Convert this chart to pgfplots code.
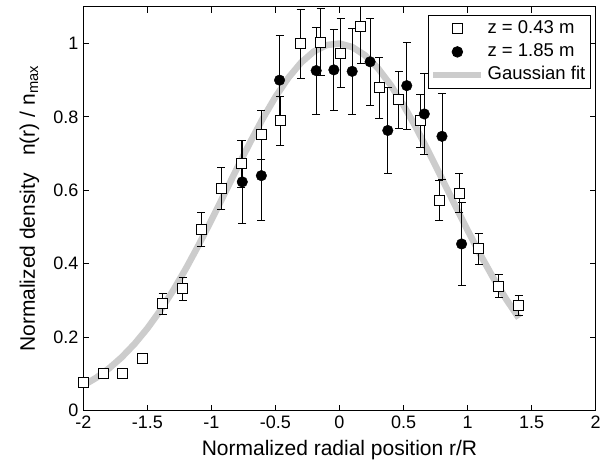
\documentclass[border=0pt]{standalone}
\usepackage{fontspec}
\setmainfont{Liberation Sans}
\usepackage{pgfplots}
\pgfplotsset{compat=1.18}
\definecolor{fitgray}{RGB}{204,204,204}
\newcommand{\tickfont}{\fontsize{18bp}{20bp}\selectfont}
\newcommand{\legfont}{\fontsize{18.5bp}{20bp}\selectfont}
\newcommand{\labfont}{\fontsize{21bp}{24bp}\selectfont}
\begin{document}
\begin{tikzpicture}
\begin{axis}[
  scale only axis, width=512.4bp, height=404bp,
  xmin=-2, xmax=2, ymin=0, ymax=1.1,
  xtick={-2,-1.5,-1,-0.5,0,0.5,1,1.5,2},
  xticklabels={-2,-1.5,-1,-0.5,0,0.5,1,1.5,2},
  ytick={0,0.2,0.4,0.6,0.8,1},
  yticklabels={0,0.2,0.4,0.6,0.8,1},
  minor tick num=0,
  tick align=inside, major tick length=6bp,
  tick style={black, line width=0.8bp},
  axis line style={black, line width=0.8bp},
  ticklabel style={font=\tickfont, inner sep=0bp, outer sep=0bp},
  xticklabel shift=5bp, yticklabel shift=5bp,
  xlabel={Normalized radial position r/R},
  ylabel={Normalized density~~~n(r) / n\textsubscript{max}},
  xlabel style={font=\labfont, at={(axis description cs:0.5,-0.1121)}, anchor=base},
  ylabel style={font=\labfont, at={(axis description cs:-0.0943,0.5)}, anchor=base, rotate=0},
  legend style={at={(1,1)}, anchor=north east, xshift=-5bp, yshift=-8.3bp,
    draw=black, line width=0.8bp, fill=white, font=\legfont,
    inner sep=2bp, row sep=0bp,
    nodes={inner sep=3bp, text height=13bp, text depth=4bp}},
  legend cell align=left,
  legend image code/.code={\draw[mark repeat=2,mark phase=2,#1] plot coordinates {(0bp,0bp) (24bp,0bp) (48bp,0bp)};},
  error bars/error bar style={line width=0.8bp, black},
  error bars/error mark options={rotate=90, mark size=4bp, line width=0.8bp, black},
]
% Gaussian fit
\addplot[fitgray, line width=6.5bp, line join=round, forget plot] coordinates {
(-2.0,0.0687) (-1.9,0.0894) (-1.8,0.1149) (-1.7,0.1455) (-1.6,0.1818)
(-1.5,0.2240) (-1.4,0.2723) (-1.3,0.3266) (-1.2,0.3863) (-1.1,0.4508)
(-1.0,0.5189) (-0.9,0.5892) (-0.8,0.6600) (-0.7,0.7292) (-0.6,0.7947)
(-0.5,0.8544) (-0.4,0.9061) (-0.3,0.9478) (-0.2,0.9781) (-0.1,0.9956)
(0.0,0.9997) (0.1,0.9902) (0.2,0.9675) (0.3,0.9325) (0.4,0.8865)
(0.5,0.8313) (0.6,0.7691) (0.7,0.7018) (0.8,0.6317) (0.9,0.5610)
(1.0,0.4913) (1.1,0.4245) (1.2,0.3618) (1.3,0.3042) (1.4,0.2522)
};
% z = 0.43 m
\addplot[only marks, mark=square*, mark size=5bp,
  mark options={fill=white, draw=black, line width=0.9bp},
  error bars/.cd, y dir=both, y explicit]
  table[x=x, y=y, y error=e] {
x y e
-2.000 0.077 0
-1.845 0.101 0
-1.697 0.101 0
-1.538 0.142 0.006
-1.380 0.291 0.028
-1.224 0.332 0.031
-1.078 0.493 0.046
-0.922 0.606 0.057
-0.766 0.672 0.065
-0.610 0.751 0.068
-0.462 0.790 0.067
-0.304 1.000 0.094
-0.148 1.004 0.092
0.008 0.974 0.094
0.164 1.046 0.100
0.312 0.879 0.082
0.463 0.847 0.078
0.629 0.790 0.072
0.779 0.572 0.055
0.935 0.592 0.053
1.086 0.441 0.042
1.242 0.339 0.031
1.398 0.287 0.027
};
% z = 1.85 m
\addplot[only marks, mark=*, mark size=5.3bp,
  mark options={fill=black, draw=black},
  error bars/.cd, y dir=both, y explicit]
  table[x=x, y=y, y error=e] {
x y e
-0.759 0.623 0.114
-0.610 0.640 0.121
-0.468 0.900 0.121
-0.182 0.926 0.118
-0.044 0.928 0.111
0.099 0.924 0.117
0.239 0.950 0.118
0.377 0.763 0.116
0.525 0.885 0.118
0.662 0.808 0.110
0.800 0.747 0.118
0.953 0.454 0.112
};
\addlegendimage{fitgray, line width=6.5bp}
\legend{z = 0.43 m, z = 1.85 m, Gaussian fit}
\end{axis}
\path ([xshift=-83.3bp,yshift=-52.3bp]current axis.south west) rectangle ([xshift=9.3bp,yshift=6.7bp]current axis.north east);
\end{tikzpicture}
\end{document}
